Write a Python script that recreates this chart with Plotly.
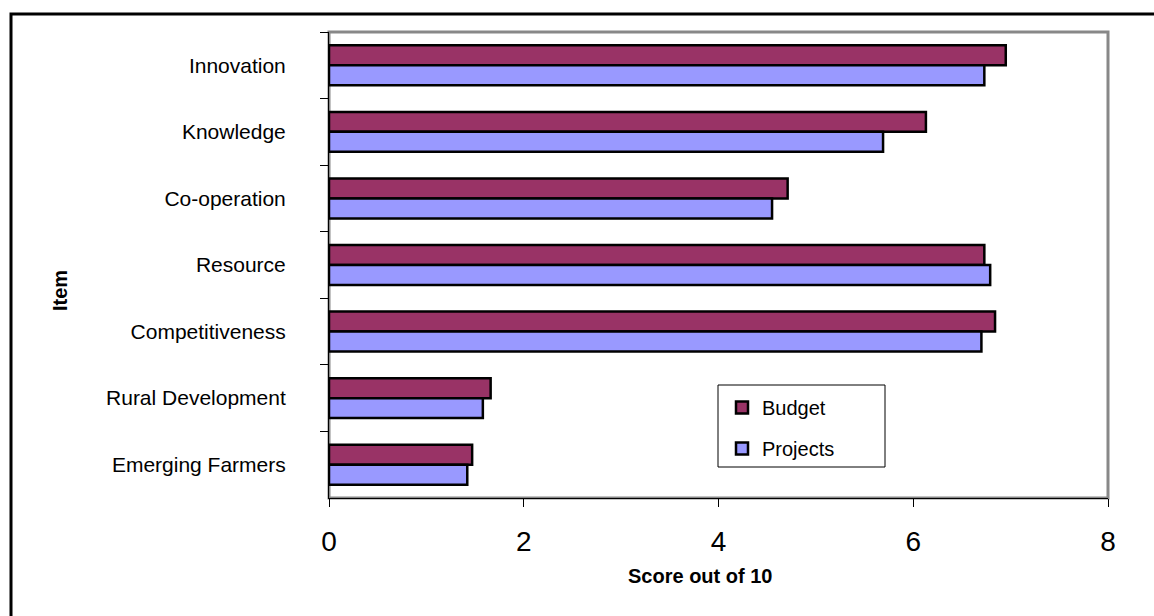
import plotly.graph_objects as go

# Scores per item, listed top to bottom
items = ["Innovation", "Knowledge", "Co-operation", "Resource",
         "Competitiveness", "Rural Development", "Emerging Farmers"]
budget = [6.95, 6.13, 4.71, 6.73, 6.84, 1.66, 1.47]
projects = [6.73, 5.69, 4.55, 6.79, 6.70, 1.58, 1.42]
x_ticks = [0, 2, 4, 6, 8]

W, H = 1154, 616
L, R, T, B = 329, 46, 32, 118
pw, ph = W - L - R, H - T - B


def px(x):
    return (x - L) / pw


def py(y):
    return (H - B - y) / ph


FONT = "Liberation Sans, Arial, sans-serif"

fig = go.Figure()
fig.add_trace(go.Bar(
    y=items, x=budget, name="Budget", orientation="h",
    marker=dict(color="#993366", line=dict(color="black", width=2.5)),
    legendgroup="b",
))
fig.add_trace(go.Bar(
    y=items, x=projects, name="Projects", orientation="h",
    marker=dict(color="#9999FF", line=dict(color="black", width=2.5)),
    legendgroup="p",
))

fig.update_layout(
    width=W, height=H,
    margin=dict(l=L, r=R, t=T, b=B, pad=0),
    paper_bgcolor="white", plot_bgcolor="white",
    barmode="group", bargap=0.4, bargroupgap=0,
    font=dict(family=FONT, color="black"),
    showlegend=True,
    legend=dict(
        x=px(722), y=py(388), xanchor="left", yanchor="top",
        bgcolor="rgba(0,0,0,0)", borderwidth=0,
        font=dict(size=20, family=FONT), traceorder="grouped",
        tracegroupgap=12, itemwidth=30,
    ),
    xaxis=dict(
        range=[0, 8], tickvals=x_ticks, ticktext=[str(v) for v in x_ticks],
        showgrid=False, zeroline=False,
        showline=True, linecolor="black", linewidth=1,
        ticks="outside", ticklen=8, tickcolor="black",
        tickfont=dict(size=28, family=FONT), ticklabelstandoff=10,
    ),
    yaxis=dict(
        categoryorder="array", categoryarray=items, autorange="reversed",
        showgrid=False, zeroline=False,
        showline=True, linecolor="black", linewidth=1,
        ticks="outside", ticklen=8, tickcolor="black", tickson="boundaries",
        tickfont=dict(size=21, family=FONT), ticklabelstandoff=38,
    ),
    shapes=[
        # plot-area frame (grey top/right edges)
        dict(type="rect", xref="paper", yref="paper", x0=0, x1=1, y0=0, y1=1,
             line=dict(color="#888888", width=3), layer="below"),
        # legend box
        dict(type="rect", xref="paper", yref="paper",
             x0=px(718), x1=px(885), y0=py(467), y1=py(385),
             line=dict(color="black", width=1), fillcolor="white",
             layer="below"),
        # outer chart border
        dict(type="rect", xref="paper", yref="paper",
             x0=px(11), x1=px(1165), y0=py(630), y1=py(14),
             line=dict(color="black", width=3)),
    ],
    annotations=[
        dict(text="<b>Score out of 10</b>", xref="paper", yref="paper",
             x=px(700), y=py(576), xanchor="center", yanchor="middle",
             showarrow=False, font=dict(size=20, family=FONT)),
        dict(text="<b>Item</b>", xref="paper", yref="paper",
             x=px(60), y=py(291), xanchor="center", yanchor="middle",
             textangle=-90, showarrow=False, font=dict(size=20, family=FONT)),
    ],
)

fig.write_html("out.html")
